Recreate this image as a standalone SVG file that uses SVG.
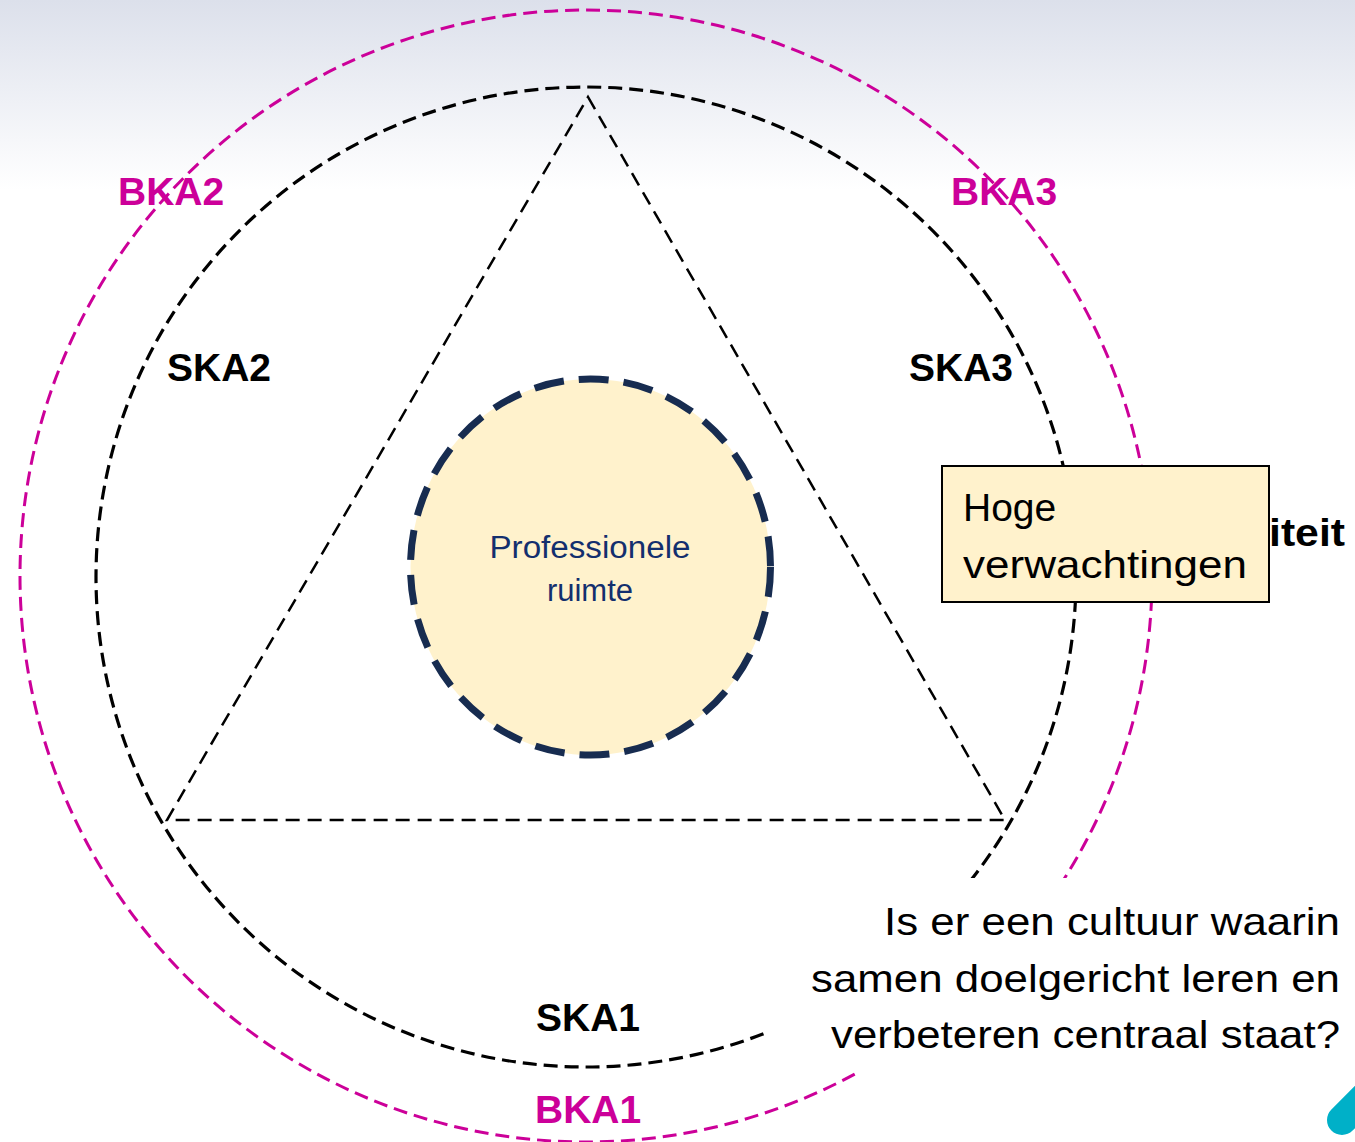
<svg xmlns="http://www.w3.org/2000/svg" width="1355" height="1142" viewBox="0 0 1355 1142">
<defs>
<linearGradient id="bg" x1="0" y1="0" x2="0" y2="1">
<stop offset="0" stop-color="#dce0eb"/>
<stop offset="1" stop-color="#ffffff"/>
</linearGradient>
<style>
.mag{fill:none;stroke:#cc0099;stroke-width:3;stroke-dasharray:14 7}
.blk{fill:none;stroke:#000;stroke-width:3.2;stroke-dasharray:14 7}
.tri{fill:none;stroke:#000;stroke-width:2.5;stroke-dasharray:14 8}
.lblm{font-family:"Liberation Sans",Arial,sans-serif;font-weight:bold;font-size:39px;fill:#cc0099}
.lblk{font-family:"Liberation Sans",Arial,sans-serif;font-weight:bold;font-size:39px;fill:#000}
.txt{font-family:"Liberation Sans",Arial,sans-serif;font-size:39px;fill:#000}
.core{font-family:"Liberation Sans",Arial,sans-serif;font-size:31px;fill:#132f6e}
</style>
</defs>
<rect x="0" y="0" width="1355" height="190" fill="url(#bg)"/>
<rect x="0" y="190" width="1355" height="952" fill="#fff"/>
<g id="outer-circle"><circle class="mag" cx="586" cy="576" r="566"/></g>
<g id="middle-circle"><circle class="blk" cx="586" cy="577" r="490"/></g>
<g id="triangle"><polygon class="tri" points="588,97 1005,820 167,820"/></g>
<g id="core">
<ellipse cx="590.5" cy="567" rx="180" ry="188" fill="#fff2cc" stroke="#172c50" stroke-width="7" stroke-dasharray="30 15"/>
<text class="core" text-anchor="middle" x="590" y="558" textLength="201" lengthAdjust="spacingAndGlyphs">Professionele</text>
<text class="core" text-anchor="middle" x="590" y="601">ruimte</text>
</g>
<g id="labels">
<text class="lblm" x="118" y="205">BKA2</text>
<text class="lblm" x="951" y="205">BKA3</text>
<text class="lblm" x="535" y="1123">BKA1</text>
<text class="lblk" x="167" y="381">SKA2</text>
<text class="lblk" x="909" y="381">SKA3</text>
<text class="lblk" x="536" y="1031">SKA1</text>
<text class="lblk" x="1269" y="546" textLength="76" lengthAdjust="spacingAndGlyphs">iteit</text>
</g>
<g id="hoge-verwachtingen">
<rect x="942" y="466" width="327" height="136" fill="#fff2cc" stroke="#000" stroke-width="2"/>
<text class="txt" x="963" y="521">Hoge</text>
<text class="txt" x="963" y="578" textLength="284" lengthAdjust="spacingAndGlyphs">verwachtingen</text>
</g>
<g id="question">
<rect x="765" y="878" width="590" height="194" fill="#fff"/>
<text class="txt" text-anchor="end" x="1340" y="935" textLength="456" lengthAdjust="spacingAndGlyphs">Is er een cultuur waarin</text>
<text class="txt" text-anchor="end" x="1340" y="992" textLength="529" lengthAdjust="spacingAndGlyphs">samen doelgericht leren en</text>
<text class="txt" text-anchor="end" x="1340" y="1048" textLength="509" lengthAdjust="spacingAndGlyphs">verbeteren centraal staat?</text>
</g>
<g id="accent"><line x1="1342" y1="1120" x2="1430" y2="1032" stroke="#00b0c8" stroke-width="30" stroke-linecap="round"/></g>
</svg>
